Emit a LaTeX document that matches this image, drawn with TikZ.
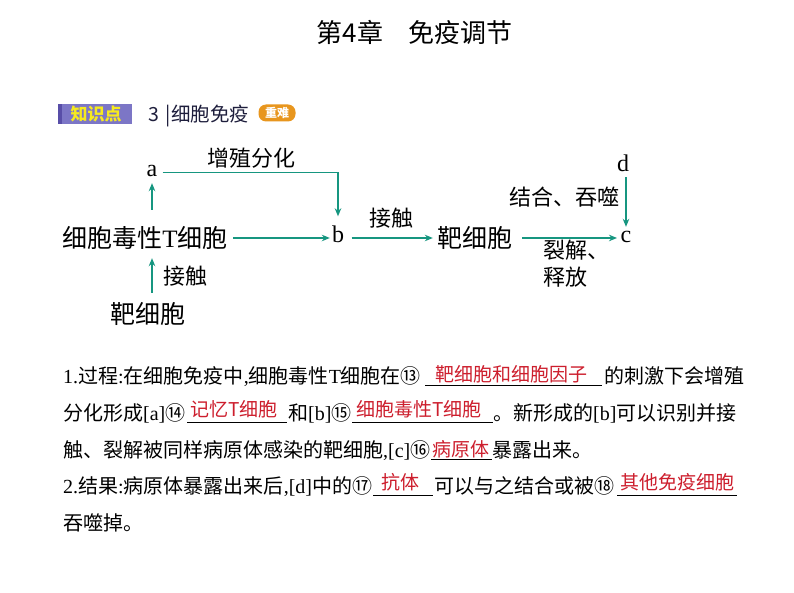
\documentclass[tikz,border=0pt]{standalone}
\usepackage{fontspec}
\setmainfont{Liberation Serif}
\newfontfamily\cj{Noto Sans CJK SC}
\usetikzlibrary{arrows.meta}
\definecolor{arrteal}{RGB}{22,150,128}
\definecolor{ansred}{RGB}{205,30,45}
\definecolor{badgeblue}{RGB}{124,118,198}
\definecolor{badgedark}{RGB}{88,78,168}
\definecolor{badgeyellow}{RGB}{246,234,30}
\definecolor{hardorange}{RGB}{232,150,30}
\definecolor{headink}{RGB}{30,30,60}
\begin{document}
\begin{tikzpicture}[x=1pt,y=-1pt,
  arr/.style={draw=arrteal, line width=1.3pt, -{Stealth[length=8pt,width=6.5pt]}},
  bignode/.style={inner sep=0pt, font=\fontsize{25}{25}\selectfont\cj, text height=22pt, text depth=3pt},
  letr/.style={inner sep=0pt, font=\fontsize{24}{24}\selectfont, text height=9pt, text depth=0pt},
  lbl/.style={inner sep=0pt, anchor=base, font=\fontsize{22}{22}\selectfont\cj},
  bodytxt/.style={inner sep=0pt, anchor=base west, text=black, font=\fontsize{20}{20}\selectfont},
  ans/.style={inner sep=0pt, anchor=base, text=ansred, font=\fontsize{19}{19}\selectfont\cj},
  uline/.style={line width=0.8pt, draw=black},
]
\useasboundingbox[fill=white] (0,0) rectangle (794,593);

% title
\node[inner sep=0pt, anchor=base, font=\fontsize{26}{26}\selectfont\cj] (t1) at (350,43) {第4章};
\node[inner sep=0pt, anchor=base, font=\fontsize{26}{26}\selectfont\cj] (t2) at (460,43) {免疫调节};

% header badge
\fill[badgeblue] (58,104) rectangle (132,124);
\fill[badgedark] (58,104) rectangle (62,124);
\node[inner sep=0pt, text=badgeyellow, font=\fontsize{17}{17}\selectfont\cj\bfseries] (kp) at (96,114.5) {知识点};
\node[inner sep=0pt, anchor=base west, text=headink, font=\fontsize{19.5}{19.5}\selectfont\cj] (sec) at (148,122) {3\hspace{6pt}|\hspace{1pt}细胞免疫};
\node[fill=hardorange, rounded corners=7.5pt, minimum width=37pt, minimum height=17pt, inner sep=0pt, text=white, font=\fontsize{12}{12}\selectfont\cj\bfseries] (hard) at (277,113) {重难};

% diagram nodes
\node[letr] (a) at (152,172.5) {a};
\node[bignode] (ctl) at (145,238) {细胞毒性{\rmfamily T}细胞};
\node[bignode] (tc1) at (148,313.5) {靶细胞};
\node[letr] (b) at (338,238) {b};
\node[bignode] (tc2) at (475,238) {靶细胞};
\node[letr] (c) at (626,238) {c};
\node[letr] (d) at (623,167.5) {d};

% diagram labels
\node[lbl] (l1) at (251,167) {增殖分化};
\node[lbl] (l2) at (185,284) {接触};
\node[lbl] (l3) at (391,227) {接触};
\node[lbl] (l4) at (564,206) {结合、吞噬};
\node[lbl, anchor=base west] (l5) at (543,259) {裂解、};
\node[lbl, anchor=base west] (l6) at (543,286) {释放};

% connectors
\draw[arr, shorten <=15.5pt, shorten >=6pt] (ctl.north -| a.south) -- (a.south);
\draw[arr, shorten <=8pt, shorten >=7.5pt] (tc1.north -| a.south) -- (ctl.south -| a.south);
\draw[arr, shorten <=5pt, shorten >=17pt] (a.east) -- (a.east -| b.north) -- (b.north);
\draw[arr, shorten <=5.5pt, shorten >=2pt] (ctl.east) -- (b.west);
\draw[arr, shorten <=7.5pt, shorten >=4.5pt] (b.east) -- (tc2.west);
\draw[arr, shorten <=9.5pt, shorten >=3.5pt] (tc2.east) -- (c.west);
\draw[arr, shorten <=5pt, shorten >=6.5pt] (d.south -| c.north) -- (c.north);

% body text, line 1
\node[bodytxt] (p1a) at (63,383) {1.{\cj 过程}:{\cj 在细胞免疫中},{\cj 细胞毒性}T{\cj 细胞在⑬}};
\draw[uline] (425,385) -- (602,385);
\node[ans] (r13) at (511,381) {靶细胞和细胞因子};
\node[bodytxt] (p1b) at (604,383) {\cj 的刺激下会增殖};
% line 2
\node[bodytxt] (p2a) at (63,420) {{\cj 分化形成}[a]{\cj ⑭}};
\draw[uline] (187,422) -- (287,422);
\node[ans] (r14) at (234,416) {记忆T细胞};
\node[bodytxt] (p2b) at (288,420) {{\cj 和}[b]{\cj ⑮}};
\draw[uline] (352,422) -- (493,422);
\node[ans] (r15) at (419,416) {细胞毒性T细胞};
\node[bodytxt] (p2c) at (493,420) {{\cj 。新形成的}[b]{\cj 可以识别并接}};
% line 3
\node[bodytxt] (p3a) at (63,457) {{\cj 触、裂解被同样病原体感染的靶细胞},[c]{\cj ⑯}};
\draw[uline] (431,459) -- (492,459);
\node[ans] (r16) at (461,456) {病原体};
\node[bodytxt] (p3b) at (492,457) {\cj 暴露出来。};
% line 4
\node[bodytxt] (p4a) at (63,493) {2.{\cj 结果}:{\cj 病原体暴露出来后},[d]{\cj 中的⑰}};
\draw[uline] (373,495) -- (433,495);
\node[ans] (r17) at (400,489) {抗体};
\node[bodytxt] (p4b) at (434,493) {\cj 可以与之结合或被⑱};
\draw[uline] (617,495) -- (737,495);
\node[ans] (r18) at (677,489) {其他免疫细胞};
% line 5
\node[bodytxt] (p5) at (63,530) {\cj 吞噬掉。};
\end{tikzpicture}
\end{document}
